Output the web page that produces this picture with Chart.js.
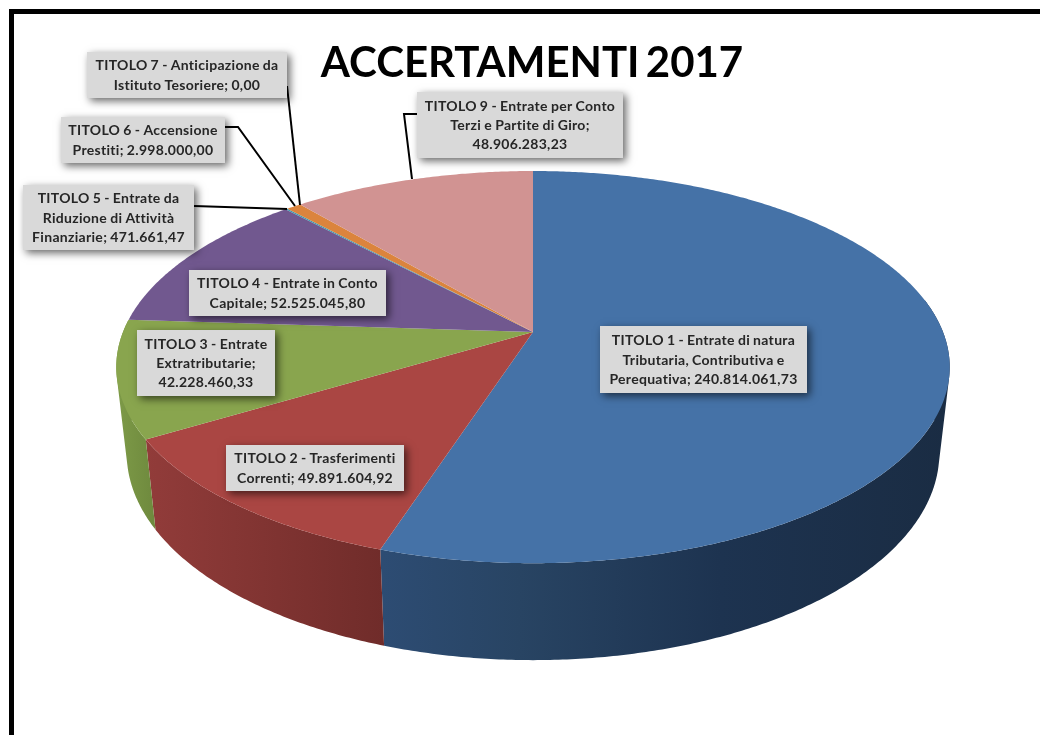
<!DOCTYPE html>
<html lang="it">
<head>
<meta charset="utf-8">
<title>ACCERTAMENTI 2017</title>
<style>
html,body{margin:0;padding:0;background:#fff;width:1040px;height:735px;overflow:hidden}
canvas{display:block;position:absolute;left:0;top:0;filter:blur(.45px)}
</style>
<script src="https://cdn.jsdelivr.net/npm/chart.js@4/dist/chart.umd.js"></script>
</head>
<body>
<canvas id="c" width="1040" height="735"></canvas>
<script>
const chartTitle = "ACCERTAMENTI 2017";
const categories = [
  "TITOLO 1 - Entrate di natura Tributaria, Contributiva e Perequativa",
  "TITOLO 2 - Trasferimenti Correnti",
  "TITOLO 3 - Entrate Extratributarie",
  "TITOLO 4 - Entrate in Conto Capitale",
  "TITOLO 5 - Entrate da Riduzione di Attività Finanziarie",
  "TITOLO 6 - Accensione Prestiti",
  "TITOLO 7 - Anticipazione da Istituto Tesoriere",
  "TITOLO 9 - Entrate per Conto Terzi e Partite di Giro"
];
const values = [240814061.73, 49891604.92, 42228460.33, 52525045.80, 471661.47, 2998000.00, 0.00, 48906283.23];
const colors = ["#4572A7", "#AA4643", "#89A54E", "#71588F", "#4198AF", "#DB843D", "#93A9CF", "#D19392"];
const labelLines = [
  ["TITOLO 1 - Entrate di natura", "Tributaria, Contributiva e", "Perequativa; 240.814.061,73"],
  ["TITOLO 2 - Trasferimenti", "Correnti; 49.891.604,92"],
  ["TITOLO 3 - Entrate", "Extratributarie;", "42.228.460,33"],
  ["TITOLO 4 - Entrate in Conto", "Capitale; 52.525.045,80"],
  ["TITOLO 5 - Entrate da", "Riduzione di Attività", "Finanziarie; 471.661,47"],
  ["TITOLO 6 - Accensione", "Prestiti; 2.998.000,00"],
  ["TITOLO 7 - Anticipazione da", "Istituto Tesoriere; 0,00"],
  ["TITOLO 9 - Entrate per Conto", "Terzi e Partite di Giro;", "48.906.283,23"]
];

/* layout of the drawing (not data) */
const boxes = [[600,326,807,393],[226,445,404,491],[137,330,275,396],[189,270,386,316],
               [23,185,194,250],[61,117,225,163],[87,52,287,98],[417,92,623,158]];
const leaders = [
  [[194,206],[287,209]],
  [[225,127],[238,127],[295,206]],
  [[287,86],[300,205]],
  [[417,114],[404,114],[412,179]]
];
const sideStops = {
  0:[[383,"#2d4c73"],[520,"#284463"],[720,"#1d3350"],[950,"#1a2c43"]],
  1:[[143,"#923c3a"],[383,"#702c2a"]],
  2:[[115,"#7e9b48"],[153,"#6f8a3e"]]
};
const P = {cx:533, cy:332, rx:410, ry:189.8, k:-0.179, sx:.975, sy:1.056, y0:439, y1:529};
const rimTop = t => {
  const w = 1 + P.k*Math.sin(t);
  return [P.cx + P.rx*Math.cos(t)/w, P.cy + P.ry*Math.sin(t)/w];
};
const rimBottom = t => {
  const [x,y] = rimTop(t);
  return [P.cx + P.sx*(x-P.cx), P.y1 + P.sy*(y-P.y0)];
};
const STEP = Math.PI/360;
const area = q => q.reduce((s,p,i)=>{const n=q[(i+1)%q.length];return s+p[0]*n[1]-n[0]*p[1];},0);

const pie3d = {
  id:'pie3d',
  beforeDraw(chart){
    chart.ctx.wordSpacing='-4px';
  },
  beforeDatasetsDraw(chart){
    const ctx = chart.ctx, arcs = chart.getDatasetMeta(0).data;
    ctx.save();
    // side wall
    const lo = -10*Math.PI/180, hi = 195*Math.PI/180;
    arcs.forEach((a,i)=>{
      const s = Math.max(a.startAngle,lo), e = Math.min(a.endAngle,hi);
      if(e<=s || !sideStops[i]) return;
      const st = sideStops[i];
      const g = ctx.createLinearGradient(st[0][0],0,st[st.length-1][0],0);
      st.forEach(([x,c])=>g.addColorStop((x-st[0][0])/(st[st.length-1][0]-st[0][0]),c));
      ctx.beginPath();
      for(let t=s;t<e;t+=STEP){
        const n=Math.min(t+STEP,e);
        let q=[rimTop(t),rimTop(n),rimBottom(n),rimBottom(t)];
        if(area(q)<0) q=q.reverse();
        ctx.moveTo(...q[0]);q.slice(1).forEach(p=>ctx.lineTo(...p));ctx.closePath();
      }
      ctx.fillStyle=g;ctx.fill();
    });
    // top face
    arcs.forEach((a,i)=>{
      if(a.endAngle-a.startAngle<=0) return;
      ctx.beginPath();
      ctx.moveTo(P.cx,P.cy);
      for(let t=a.startAngle;t<a.endAngle;t+=STEP) ctx.lineTo(...rimTop(t));
      ctx.lineTo(...rimTop(a.endAngle));
      ctx.closePath();
      ctx.fillStyle=colors[i];ctx.fill();
    });
    ctx.restore();
    return false;
  },
  afterDraw(chart){
    const ctx = chart.ctx;
    ctx.save();
    // frame
    ctx.fillStyle='#000';
    ctx.fillRect(9,9,1031,5);
    ctx.fillRect(9,9,5,726);
    // leader lines
    ctx.strokeStyle='#000';ctx.lineWidth=2;ctx.lineJoin='miter';
    leaders.forEach(l=>{
      ctx.beginPath();ctx.moveTo(...l[0]);l.slice(1).forEach(p=>ctx.lineTo(...p));ctx.stroke();
    });
    // label boxes
    ctx.letterSpacing='.3px';ctx.wordSpacing='-.6px';
    boxes.forEach((b,i)=>{
      ctx.save();
      ctx.shadowColor='rgba(0,0,0,.6)';ctx.shadowBlur=8;ctx.shadowOffsetX=3;ctx.shadowOffsetY=3;
      ctx.fillStyle='#d9d9d9';
      ctx.fillRect(b[0],b[1],b[2]-b[0],b[3]-b[1]);
      ctx.restore();
      const lines=labelLines[i], lh=19.3, mid=(b[1]+b[3])/2, x=(b[0]+b[2])/2;
      ctx.font='700 14px Lato';ctx.fillStyle='#262626';ctx.textAlign='center';ctx.textBaseline='middle';
      lines.forEach((t,j)=>ctx.fillText(t,x,mid+(j-(lines.length-1)/2)*lh+.5));
    });
    ctx.restore();
  }
};

new Chart(document.getElementById('c'),{
  type:'pie',
  data:{labels:categories,datasets:[{data:values,backgroundColor:colors,borderWidth:0}]},
  options:{
    responsive:false,animation:false,
    layout:{padding:{left:24}},
    events:[],
    plugins:{
      legend:{display:false},tooltip:{enabled:false},
      title:{display:true,text:chartTitle,color:'#000',font:{family:'Lato',weight:'700',size:42},padding:{top:38,bottom:10}}
    }
  },
  plugins:[pie3d]
});
</script>
</body>
</html>
